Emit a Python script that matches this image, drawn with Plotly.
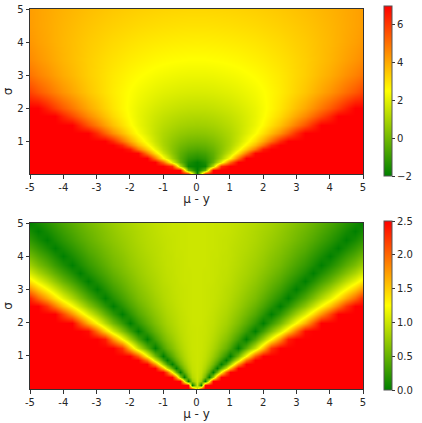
import plotly.graph_objects as go

# ================= top panel (values read from colours, clipped to -2..7) =================
# x = mu - y, right half (the picture is mirror-symmetric about x = 0)
x_top_half = [0, 0.25, 0.5, 0.75, 1, 1.25, 1.5, 1.75, 2, 2.25, 2.5, 2.75, 3,
              3.25, 3.5, 3.75, 4, 4.25, 4.5, 4.75, 5]
sigma_top = [0, 0.125, 0.25, 0.375, 0.5, 0.625, 0.75, 0.875, 1, 1.25, 1.5, 1.75,
             2, 2.5, 3, 3.5, 4, 4.5, 5]
t_000 = [-2, 7, 7, 7, 7, 7, 7, 7, 7, 7, 7, 7, 7, 7, 7, 7, 7, 7, 7, 7, 7]
t_0125 = [-2, -0.16, 7, 7, 7, 7, 7, 7, 7, 7, 7, 7, 7, 7, 7, 7, 7, 7, 7, 7, 7]
t_025 = [-2, -1.77, 1.23, 6.23, 7, 7, 7, 7, 7, 7, 7, 7, 7, 7, 7, 7, 7, 7, 7, 7, 7]
t_0375 = [-1.96, -1.52, -0.18, 2.04, 5.15, 7, 7, 7, 7, 7, 7, 7, 7, 7, 7, 7, 7, 7, 7, 7, 7]
t_050 = [-1.39, -1.14, -0.39, 0.86, 2.61, 4.86, 7, 7, 7, 7, 7, 7, 7, 7, 7, 7, 7, 7, 7, 7, 7]
t_0625 = [-0.94, -0.78, -0.30, 0.50, 1.62, 3.06, 4.82, 6.90, 7, 7, 7, 7, 7, 7, 7, 7, 7, 7, 7, 7, 7]
t_075 = [-0.58, -0.46, -0.13, 0.43, 1.20, 2.20, 3.43, 4.87, 6.54, 7, 7, 7, 7, 7, 7, 7, 7, 7, 7, 7, 7]
t_0875 = [-0.27, -0.19, 0.06, 0.47, 1.04, 1.77, 2.67, 3.73, 4.96, 6.35, 7, 7, 7, 7, 7, 7, 7, 7, 7, 7, 7]
t_100 = [0, 0.06, 0.25, 0.56, 1, 1.56, 2.25, 3.06, 4, 5.06, 6.25, 7, 7, 7, 7, 7, 7, 7, 7, 7, 7]
t_125 = [0.45, 0.49, 0.61, 0.81, 1.09, 1.45, 1.89, 2.41, 3.01, 3.69, 4.45, 5.29, 6.21, 7, 7, 7, 7, 7, 7, 7, 7]
t_150 = [0.81, 0.84, 0.92, 1.06, 1.26, 1.51, 1.81, 2.17, 2.59, 3.06, 3.59, 4.17, 4.81, 5.51, 6.26, 7, 7, 7, 7, 7, 7]
t_175 = [1.12, 1.14, 1.20, 1.30, 1.45, 1.63, 1.85, 2.12, 2.43, 2.77, 3.16, 3.59, 4.06, 4.57, 5.12, 5.71, 6.34, 7, 7, 7, 7]
t_200 = [1.39, 1.40, 1.45, 1.53, 1.64, 1.78, 1.95, 2.15, 2.39, 2.65, 2.95, 3.28, 3.64, 4.03, 4.45, 4.90, 5.39, 5.90, 6.45, 7, 7]
t_250 = [1.83, 1.84, 1.87, 1.92, 1.99, 2.08, 2.19, 2.32, 2.47, 2.64, 2.83, 3.04, 3.27, 3.52, 3.79, 4.08, 4.39, 4.72, 5.07, 5.44, 5.83]
t_300 = [2.20, 2.20, 2.22, 2.26, 2.31, 2.37, 2.45, 2.54, 2.64, 2.76, 2.89, 3.04, 3.20, 3.37, 3.56, 3.76, 3.97, 4.20, 4.45, 4.70, 4.97]
t_350 = [2.51, 2.51, 2.53, 2.55, 2.59, 2.63, 2.69, 2.76, 2.83, 2.92, 3.02, 3.12, 3.24, 3.37, 3.51, 3.65, 3.81, 3.98, 4.16, 4.35, 4.55]
t_400 = [2.77, 2.78, 2.79, 2.81, 2.84, 2.87, 2.91, 2.96, 3.02, 3.09, 3.16, 3.25, 3.34, 3.43, 3.54, 3.65, 3.77, 3.90, 4.04, 4.18, 4.34]
t_450 = [3.01, 3.01, 3.02, 3.04, 3.06, 3.09, 3.12, 3.16, 3.21, 3.26, 3.32, 3.38, 3.45, 3.53, 3.61, 3.70, 3.80, 3.90, 4.01, 4.12, 4.24]
t_500 = [3.22, 3.22, 3.23, 3.24, 3.26, 3.28, 3.31, 3.34, 3.38, 3.42, 3.47, 3.52, 3.58, 3.64, 3.71, 3.78, 3.86, 3.94, 4.03, 4.12, 4.22]

x_bot_half = [0, 0.125, 0.25, 0.375, 0.5, 0.625, 0.75, 0.875, 1, 1.25, 1.5, 1.75, 2,
              2.25, 2.5, 2.75, 3, 3.25, 3.5, 3.75, 4, 4.25, 4.5, 4.75, 5]
sigma_bot = [0, 0.125, 0.25, 0.375, 0.5, 0.625, 0.75, 0.875, 1, 1.25, 1.5, 1.75, 2,
             2.25, 2.5, 2.75, 3, 3.25, 3.5, 3.75, 4, 4.25, 4.5, 4.75, 5]
b_000 = [1, 2.5, 2.5, 2.5, 2.5, 2.5, 2.5, 2.5, 2.5, 2.5, 2.5, 2.5, 2.5, 2.5, 2.5, 2.5, 2.5, 2.5, 2.5, 2.5, 2.5, 2.5, 2.5, 2.5, 2.5]
b_0125 = [1, 0, 2.5, 2.5, 2.5, 2.5, 2.5, 2.5, 2.5, 2.5, 2.5, 2.5, 2.5, 2.5, 2.5, 2.5, 2.5, 2.5, 2.5, 2.5, 2.5, 2.5, 2.5, 2.5, 2.5]
b_025 = [1, 0.75, 0, 1.25, 2.5, 2.5, 2.5, 2.5, 2.5, 2.5, 2.5, 2.5, 2.5, 2.5, 2.5, 2.5, 2.5, 2.5, 2.5, 2.5, 2.5, 2.5, 2.5, 2.5, 2.5]
b_0375 = [1, 0.89, 0.56, 0, 0.78, 1.78, 2.5, 2.5, 2.5, 2.5, 2.5, 2.5, 2.5, 2.5, 2.5, 2.5, 2.5, 2.5, 2.5, 2.5, 2.5, 2.5, 2.5, 2.5, 2.5]
b_050 = [1, 0.94, 0.75, 0.44, 0, 0.56, 1.25, 2.06, 2.5, 2.5, 2.5, 2.5, 2.5, 2.5, 2.5, 2.5, 2.5, 2.5, 2.5, 2.5, 2.5, 2.5, 2.5, 2.5, 2.5]
b_0625 = [1, 0.96, 0.84, 0.64, 0.36, 0, 0.44, 0.96, 1.56, 2.5, 2.5, 2.5, 2.5, 2.5, 2.5, 2.5, 2.5, 2.5, 2.5, 2.5, 2.5, 2.5, 2.5, 2.5, 2.5]
b_075 = [1, 0.97, 0.89, 0.75, 0.56, 0.31, 0, 0.36, 0.78, 1.78, 2.5, 2.5, 2.5, 2.5, 2.5, 2.5, 2.5, 2.5, 2.5, 2.5, 2.5, 2.5, 2.5, 2.5, 2.5]
b_0875 = [1, 0.98, 0.92, 0.82, 0.67, 0.49, 0.27, 0, 0.31, 1.04, 1.94, 2.5, 2.5, 2.5, 2.5, 2.5, 2.5, 2.5, 2.5, 2.5, 2.5, 2.5, 2.5, 2.5, 2.5]
b_100 = [1, 0.98, 0.94, 0.86, 0.75, 0.61, 0.44, 0.23, 0, 0.56, 1.25, 2.06, 2.5, 2.5, 2.5, 2.5, 2.5, 2.5, 2.5, 2.5, 2.5, 2.5, 2.5, 2.5, 2.5]
b_125 = [1, 0.99, 0.96, 0.91, 0.84, 0.75, 0.64, 0.51, 0.36, 0, 0.44, 0.96, 1.56, 2.24, 2.5, 2.5, 2.5, 2.5, 2.5, 2.5, 2.5, 2.5, 2.5, 2.5, 2.5]
b_150 = [1, 0.99, 0.97, 0.94, 0.89, 0.83, 0.75, 0.66, 0.56, 0.31, 0, 0.36, 0.78, 1.25, 1.78, 2.36, 2.5, 2.5, 2.5, 2.5, 2.5, 2.5, 2.5, 2.5, 2.5]
b_175 = [1, 0.99, 0.98, 0.95, 0.92, 0.87, 0.82, 0.75, 0.67, 0.49, 0.27, 0, 0.31, 0.65, 1.04, 1.47, 1.94, 2.45, 2.5, 2.5, 2.5, 2.5, 2.5, 2.5, 2.5]
b_200 = [1, 1.0, 0.98, 0.96, 0.94, 0.90, 0.86, 0.81, 0.75, 0.61, 0.44, 0.23, 0, 0.27, 0.56, 0.89, 1.25, 1.64, 2.06, 2.5, 2.5, 2.5, 2.5, 2.5, 2.5]
b_225 = [1, 1.0, 0.99, 0.97, 0.95, 0.92, 0.89, 0.85, 0.80, 0.69, 0.56, 0.40, 0.21, 0, 0.23, 0.49, 0.78, 1.09, 1.42, 1.78, 2.16, 2.5, 2.5, 2.5, 2.5]
b_250 = [1, 1.0, 0.99, 0.98, 0.96, 0.94, 0.91, 0.88, 0.84, 0.75, 0.64, 0.51, 0.36, 0.19, 0, 0.21, 0.44, 0.69, 0.96, 1.25, 1.56, 1.89, 2.24, 2.5, 2.5]
b_275 = [1, 1.0, 0.99, 0.98, 0.97, 0.95, 0.93, 0.90, 0.87, 0.79, 0.70, 0.60, 0.47, 0.33, 0.17, 0, 0.19, 0.40, 0.62, 0.86, 1.12, 1.39, 1.68, 1.98, 2.31]
b_300 = [1, 1.0, 0.99, 0.98, 0.97, 0.96, 0.94, 0.91, 0.89, 0.83, 0.75, 0.66, 0.56, 0.44, 0.31, 0.16, 0, 0.17, 0.36, 0.56, 0.78, 1.01, 1.25, 1.51, 1.78]
b_325 = [1, 1.0, 0.99, 0.99, 0.98, 0.96, 0.95, 0.93, 0.91, 0.85, 0.79, 0.71, 0.62, 0.52, 0.41, 0.28, 0.15, 0, 0.16, 0.33, 0.51, 0.71, 0.92, 1.14, 1.37]
b_350 = [1, 1.0, 0.99, 0.99, 0.98, 0.97, 0.95, 0.94, 0.92, 0.87, 0.82, 0.75, 0.67, 0.59, 0.49, 0.38, 0.27, 0.14, 0, 0.15, 0.31, 0.47, 0.65, 0.84, 1.04]
b_375 = [1, 1.0, 1.0, 0.99, 0.98, 0.97, 0.96, 0.95, 0.93, 0.89, 0.84, 0.78, 0.72, 0.64, 0.56, 0.46, 0.36, 0.25, 0.13, 0, 0.14, 0.28, 0.44, 0.60, 0.78]
b_400 = [1, 1.0, 1.0, 0.99, 0.98, 0.98, 0.96, 0.95, 0.94, 0.90, 0.86, 0.81, 0.75, 0.68, 0.61, 0.53, 0.44, 0.34, 0.23, 0.12, 0, 0.13, 0.27, 0.41, 0.56]
b_425 = [1, 1.0, 1.0, 0.99, 0.99, 0.98, 0.97, 0.96, 0.94, 0.91, 0.88, 0.83, 0.78, 0.72, 0.65, 0.58, 0.50, 0.42, 0.32, 0.22, 0.11, 0, 0.12, 0.25, 0.38]
b_450 = [1, 1.0, 1.0, 0.99, 0.99, 0.98, 0.97, 0.96, 0.95, 0.92, 0.89, 0.85, 0.80, 0.75, 0.69, 0.63, 0.56, 0.48, 0.40, 0.31, 0.21, 0.11, 0, 0.11, 0.23]
b_475 = [1, 1.0, 1.0, 0.99, 0.99, 0.98, 0.98, 0.97, 0.96, 0.93, 0.90, 0.86, 0.82, 0.78, 0.72, 0.66, 0.60, 0.53, 0.46, 0.38, 0.29, 0.20, 0.10, 0, 0.11]
b_500 = [1, 1.0, 1.0, 0.99, 0.99, 0.98, 0.98, 0.97, 0.96, 0.94, 0.91, 0.88, 0.84, 0.80, 0.75, 0.70, 0.64, 0.58, 0.51, 0.44, 0.36, 0.28, 0.19, 0.10, 0]

# ================= ticks =================
x_ticks = [-5, -4, -3, -2, -1, 0, 1, 2, 3, 4, 5]
x_tick_labels = ["-5", "-4", "-3", "-2", "-1", "0", "1", "2", "3", "4", "5"]
y_ticks = [1, 2, 3, 4, 5]
top_cb_ticks = [-2, 0, 2, 4, 6]
bot_cb_ticks = [0.0, 0.5, 1.0, 1.5, 2.0, 2.5]

top_rows = [t_000, t_0125, t_025, t_0375, t_050, t_0625, t_075, t_0875, t_100,
            t_125, t_150, t_175, t_200, t_250, t_300, t_350, t_400, t_450, t_500]
bot_rows = [b_000, b_0125, b_025, b_0375, b_050, b_0625, b_075, b_0875, b_100,
            b_125, b_150, b_175, b_200, b_225, b_250, b_275, b_300, b_325, b_350,
            b_375, b_400, b_425, b_450, b_475, b_500]


def mirror_x(half):
    return [-v for v in reversed(half[1:])] + list(half)


def mirror_row(row):
    return list(reversed(row[1:])) + list(row)


cscale = [[0.0, "#008000"], [0.5, "#ffff00"], [1.0, "#ff0000"]]
FONT = "DejaVu Sans"
TXT = "#262626"

W, H = 422, 423
PL, PR, PT, PB = 30, 363, 9, 389          # plot area in window pixels
L, T, R, B = PL, PT, W - PR, H - PB
plot_w = PR - PL
plot_h = PB - PT


def py(pix):
    return (PB - pix) / plot_h


def cb(ticks, top_pix, bot_pix, fmt):
    return dict(
        x=(384 - PL) / plot_w, xanchor="left", xpad=0,
        y=py((top_pix + bot_pix) / 2), yanchor="middle", ypad=0,
        len=bot_pix - top_pix, lenmode="pixels", thickness=8, thicknessmode="pixels",
        outlinewidth=1, outlinecolor="#555",
        ticks="outside", ticklen=3, tickwidth=1, tickcolor="#333",
        tickvals=ticks, tickformat=fmt,
        tickfont=dict(family=FONT, size=10, color=TXT),
    )


fig = go.Figure()
fig.add_trace(go.Heatmap(
    x=mirror_x(x_top_half), y=sigma_top, z=[mirror_row(r) for r in top_rows],
    zmin=-2, zmax=7, colorscale=cscale, zsmooth="best",
    xaxis="x", yaxis="y", hoverinfo="skip",
    colorbar=cb(top_cb_ticks, 6, 176, "d"),
))
fig.add_trace(go.Heatmap(
    x=mirror_x(x_bot_half), y=sigma_bot, z=[mirror_row(r) for r in bot_rows],
    zmin=0, zmax=2.5, colorscale=cscale, zsmooth="best",
    xaxis="x2", yaxis="y2", hoverinfo="skip",
    colorbar=cb(bot_cb_ticks, 221, 390, ".1f"),
))

axis_common = dict(
    showgrid=False, zeroline=False, showline=True, mirror=True,
    linecolor="#333", linewidth=1, ticks="outside", ticklen=3.5,
    tickwidth=1, tickcolor="#333",
    tickfont=dict(family=FONT, size=10, color=TXT), automargin=False,
)

xa = dict(axis_common, range=[-5, 5], tickvals=x_ticks, ticktext=x_tick_labels,
          title=dict(text="μ - y", font=dict(family=FONT, size=12, color=TXT), standoff=3))
ya = dict(axis_common, range=[0, 5], tickvals=y_ticks,
          title=dict(text="σ", font=dict(family=FONT, size=12, color=TXT), standoff=1))

fig.update_layout(
    width=W, height=H,
    margin=dict(l=L, r=R, t=T, b=B, autoexpand=False),
    paper_bgcolor="white", plot_bgcolor="white",
    font=dict(family=FONT, size=10, color=TXT),
    xaxis=dict(xa, domain=[0, 1], anchor="y"),
    yaxis=dict(ya, domain=[py(174), 1.0], anchor="x"),
    xaxis2=dict(xa, domain=[0, 1], anchor="y2"),
    yaxis2=dict(ya, domain=[0.0, py(223)], anchor="x2"),
    showlegend=False,
)

# remove the browser's default 8 px page margin so the figure sits at the window origin
fig.write_html("out.html",
               config={"displayModeBar": False},
               post_script="document.body.style.margin='0';document.body.style.overflow='hidden';")
